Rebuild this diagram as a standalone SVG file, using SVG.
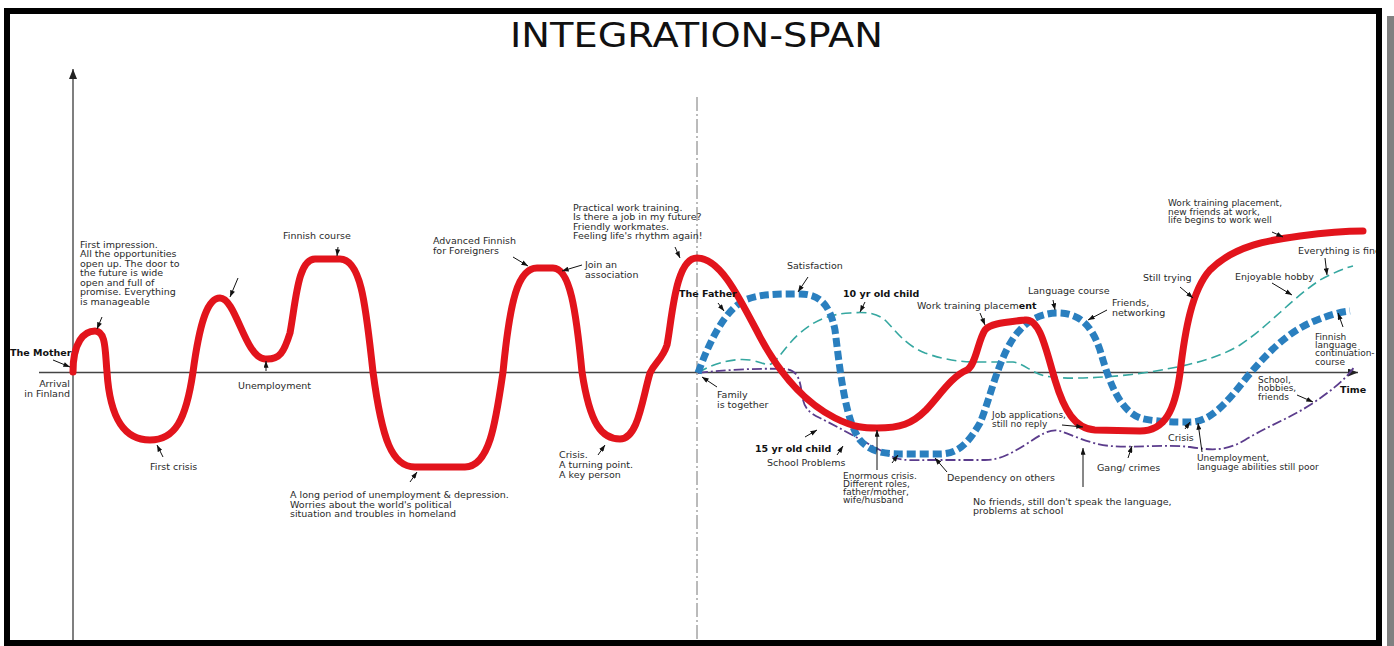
<svg xmlns="http://www.w3.org/2000/svg" width="1394" height="646" viewBox="0 0 1394 646">
  <style>
    text { font-family: "DejaVu Sans", Verdana, sans-serif; font-size: 9.5px; fill: #2a2a2a; }
    .b { font-weight: bold; fill: #111; }
    .s { font-size: 9px; }
    .title { font-size: 33px; fill: #111; }
    .lbl { stroke: #111; stroke-width: 1; fill: none; marker-end: url(#tip); }
    .mother { fill: none; stroke: #e2141c; stroke-width: 7; stroke-linecap: round; stroke-linejoin: round; }
    .father { fill: none; stroke: #2a7fbf; stroke-width: 7; stroke-dasharray: 9 4; }
    .child10 { fill: none; stroke: #35a7a0; stroke-width: 1.6; stroke-dasharray: 10 5; }
    .child15 { fill: none; stroke: #5b3c8c; stroke-width: 1.8; stroke-dasharray: 10 3 2 3; }
  </style>
  <defs>
    <marker id="tip" viewBox="0 0 8 6" refX="8" refY="3" markerWidth="7" markerHeight="5" markerUnits="userSpaceOnUse" orient="auto">
      <path d="M0,0 L8,3 L0,6 Z" fill="#111"/>
    </marker>
    <marker id="axtip" viewBox="0 0 10 8" refX="10" refY="4" markerWidth="10" markerHeight="8" markerUnits="userSpaceOnUse" orient="auto">
      <path d="M0,0 L10,4 L0,8 Z" fill="#222"/>
    </marker>
  </defs>

  <rect x="0" y="0" width="1394" height="646" fill="#fff"/>
  <!-- drop shadow on the right -->
  <rect x="1387" y="16" width="7" height="630" fill="#808080"/>

  <!-- title -->
  <text class="title" x="510" y="47" textLength="373" lengthAdjust="spacingAndGlyphs">INTEGRATION-SPAN</text>

  <!-- axes -->
  <g id="axes">
    <line x1="73" y1="640" x2="73" y2="69" stroke="#555" stroke-width="1.5" marker-end="url(#axtip)"/>
    <line x1="39" y1="372.5" x2="1358" y2="372.5" stroke="#444" stroke-width="1.5" marker-end="url(#axtip)"/>
    <line x1="697" y1="97" x2="697" y2="640" stroke="#777" stroke-width="1" stroke-dasharray="14 3 2 3"/>
  </g>

  <!-- curves -->
  <g id="connectors">
    <path id="curve-child10" class="child10" d="M698,373 C715,362 735,358 750,360 C762,362 766,366 771,364 C780,358 786,345 800,333 C815,320 830,314 850,313 C865,312 876,312 886,321 C896,331 905,345 925,353 C945,360 960,362 980,362 L1013,362 C1025,364 1030,372 1045,376 C1065,380 1110,378 1150,372 C1185,366 1215,360 1240,345 C1270,325 1290,300 1320,280 C1335,272 1345,268 1353,266"/>
    <path id="curve-child15" class="child15" d="M698,373 C720,370 760,368 785,369 C797,370 800,378 802,395 C804,408 808,412 820,418 C840,428 870,445 895,458 C905,461 915,460 930,460 L985,460 C1000,460 1010,454 1025,445 C1040,435 1050,428 1060,431 C1075,436 1090,444 1110,446 C1135,448 1165,444 1190,447 C1210,450 1225,452 1245,440 C1270,425 1290,418 1310,405 C1330,392 1345,380 1355,366"/>
    <path id="curve-father" class="father" d="M698,373 C710,340 725,310 745,300 C760,294 775,294 800,294 C820,294 830,305 835,330 C840,370 845,420 860,440 C870,452 885,454 900,454 L940,454 C960,454 970,440 980,423 C990,400 1000,350 1020,330 C1030,318 1045,313 1057,313 C1075,313 1090,320 1100,350 C1110,385 1120,410 1140,418 C1155,422 1175,422 1190,422 C1210,422 1225,405 1247,377 C1270,350 1290,330 1317,320 C1330,315 1340,312 1350,311"/>
    <path id="curve-mother" class="mother" d="M73,372 C73,342 84,331 95,331 C106,331 105,350 107,372 C110,420 125,440 150,440 C175,440 186,420 193,372 C200,320 208,298 220,298 C236,298 245,358 265,359 C280,360 284,352 290,333 C296,300 298,259 315,259 L340,259 C362,259 366,310 373,372 C382,440 392,467 415,467 L465,467 C490,467 496,420 503,372 C510,300 518,268 537,268 L553,268 C570,268 576,310 582,372 C590,425 602,439 620,439 C638,439 642,400 650,373 C655,362 662,360 667,345 C672,320 675,258 697,258 C720,258 738,295 760,337 C775,365 800,400 835,418 C855,428 865,428 877,428 C900,428 912,424 926,410 C940,395 952,376 967,370 C976,365 978,340 985,330 C990,324 1000,323 1025,320 C1040,318 1046,350 1055,380 C1064,410 1075,429 1095,430 L1140,431 C1165,431 1175,410 1180,373 C1185,330 1192,290 1210,270 C1235,245 1270,240 1300,236 C1330,232 1350,231 1363,231"/>
  </g>

  <!-- label pointers -->
  <g id="pointers">
    <path class="lbl" d="M53,360 L70,367"/>
    <path class="lbl" d="M102,317 L97,329"/>
    <path class="lbl" d="M163,457 L157,445"/>
    <path class="lbl" d="M238,278 L230,297"/>
    <path class="lbl" d="M266,371 L266,361"/>
    <path class="lbl" d="M338,247 L337,256"/>
    <path class="lbl" d="M410,482 L417,472"/>
    <path class="lbl" d="M513,257 L528,266"/>
    <path class="lbl" d="M582,265 L562,271"/>
    <path class="lbl" d="M598,455 L605,445"/>
    <path class="lbl" d="M675,247 L680,258"/>
    <path class="lbl" d="M718,303 L724,311"/>
    <path class="lbl" d="M808,277 L798,292"/>
    <path class="lbl" d="M865,302 L860,312"/>
    <path class="lbl" d="M717,387 L702,377"/>
    <path class="lbl" d="M805,437 L817,430"/>
    <path class="lbl" d="M837,455 L843,446"/>
    <path class="lbl" d="M877,470 L877,430"/>
    <path class="lbl" d="M892,463 L898,455"/>
    <path class="lbl" d="M947,472 L935,458"/>
    <path class="lbl" d="M980,313 L985,325"/>
    <path class="lbl" d="M1053,300 L1055,310"/>
    <path class="lbl" d="M1107,310 L1088,320"/>
    <path class="lbl" d="M1062,425 L1083,427"/>
    <path class="lbl" d="M1128,458 L1132,446"/>
    <path class="lbl" d="M1083,487 L1083,448"/>
    <path class="lbl" d="M1180,287 L1193,298"/>
    <path class="lbl" d="M1272,232 L1283,237"/>
    <path class="lbl" d="M1325,258 L1327,275"/>
    <path class="lbl" d="M1272,283 L1292,295"/>
    <path class="lbl" d="M1343,327 L1338,313"/>
    <path class="lbl" d="M1297,395 L1313,402"/>
    <path class="lbl" d="M1185,429 L1190,422"/>
    <path class="lbl" d="M1202,452 L1198,423"/>
  </g>

  <!-- mother labels -->
  <g id="mother-start">
    <text class="b" x="10" y="356">The Mother</text>
    <text x="70" y="387" text-anchor="end">Arrival</text>
    <text x="70" y="397" text-anchor="end">in Finland</text>
  </g>
  <g id="first-impression">
    <text x="80" y="247.5">First impression.</text>
    <text x="80" y="257">All the opportunities</text>
    <text x="80" y="266.5">open up. The door to</text>
    <text x="80" y="276">the future is wide</text>
    <text x="80" y="285.5">open and full of</text>
    <text x="80" y="295">promise. Everything</text>
    <text x="80" y="304.5">is manageable</text>
  </g>
  <g id="first-crisis"><text x="150" y="470">First crisis</text></g>
  <g id="unemployment"><text x="238" y="389">Unemployment</text></g>
  <g id="finnish-course"><text x="283" y="239">Finnish course</text></g>
  <g id="long-period">
    <text x="290" y="498">A long period of unemployment &amp; depression.</text>
    <text x="290" y="507.5">Worries about the world's political</text>
    <text x="290" y="517">situation and troubles in  homeland</text>
  </g>
  <g id="advanced-finnish">
    <text x="433" y="244">Advanced Finnish</text>
    <text x="433" y="253.5">for Foreigners</text>
  </g>
  <g id="join-association">
    <text x="585" y="268">Join an</text>
    <text x="585" y="278">association</text>
  </g>
  <g id="turning-point">
    <text x="559" y="458">Crisis.</text>
    <text x="559" y="468">A turning point.</text>
    <text x="559" y="478">A key person</text>
  </g>
  <g id="work-training">
    <text x="573" y="210.5">Practical work training.</text>
    <text x="573" y="220">Is there a job in my future?</text>
    <text x="573" y="229.5">Friendly workmates.</text>
    <text x="573" y="238.5">Feeling life's rhythm again!</text>
  </g>

  <!-- family labels -->
  <g id="father-start"><text class="b" x="679" y="297">The Father</text></g>
  <g id="satisfaction"><text x="787" y="269">Satisfaction</text></g>
  <g id="child10-start"><text class="b" x="843" y="296.5">10 yr old child</text></g>
  <g id="family-together">
    <text x="717" y="398">Family</text>
    <text x="717" y="407.5">is together</text>
  </g>
  <g id="child15-start"><text class="b" x="755" y="451.5">15 yr old child</text></g>
  <g id="school-problems"><text x="767" y="465.5">School Problems</text></g>
  <g id="enormous-crisis">
    <text class="s" x="843" y="478.5">Enormous crisis.</text>
    <text class="s" x="843" y="486.5">Different roles,</text>
    <text class="s" x="843" y="494.5">father/mother,</text>
    <text class="s" x="843" y="502.5">wife/husband</text>
  </g>
  <g id="dependency"><text x="947" y="480.5">Dependency on others</text></g>
  <g id="work-placement"><text x="917" y="308.5">Work training placem<tspan class="b">ent</tspan></text></g>
  <g id="language-course"><text x="1028" y="293.5">Language course</text></g>
  <g id="friends-networking">
    <text x="1112" y="306">Friends,</text>
    <text x="1112" y="316">networking</text>
  </g>
  <g id="job-applications">
    <text class="s" x="992" y="418">Job applications,</text>
    <text class="s" x="992" y="427">still no reply</text>
  </g>
  <g id="gang-crimes"><text x="1097" y="470.5">Gang/ crimes</text></g>
  <g id="no-friends">
    <text x="973" y="505">No friends, still don't speak the language,</text>
    <text x="973" y="513.5">problems at school</text>
  </g>
  <g id="still-trying"><text x="1143" y="280.5">Still trying</text></g>
  <g id="life-works">
    <text class="s" x="1168" y="206">Work training placement,</text>
    <text class="s" x="1168" y="214.5">new friends at work,</text>
    <text class="s" x="1168" y="222.5">life begins to work well</text>
  </g>
  <g id="everything-fine"><text x="1298" y="253.5">Everything is fine</text></g>
  <g id="enjoyable-hobby"><text x="1235" y="279.5">Enjoyable hobby</text></g>
  <g id="continuation-course">
    <text class="s" x="1315" y="339.5">Finnish</text>
    <text class="s" x="1315" y="347.5">language</text>
    <text class="s" x="1315" y="356">continuation-</text>
    <text class="s" x="1315" y="365">course</text>
  </g>
  <g id="school-hobbies">
    <text class="s" x="1258" y="382.5">School,</text>
    <text class="s" x="1258" y="390.5">hobbies,</text>
    <text class="s" x="1258" y="399.5">friends</text>
  </g>
  <g id="time-label"><text class="b" x="1340" y="392.5">Time</text></g>
  <g id="late-crisis"><text x="1168" y="440.5">Crisis</text></g>
  <g id="late-unemployment">
    <text class="s" x="1197" y="460.5">Unemployment,</text>
    <text class="s" x="1197" y="469.5">language abilities still poor</text>
  </g>

  <!-- frame, drawn last so it trims anything running past the edge -->
  <rect x="1380" y="0" width="7" height="646" fill="#fff"/>
  <rect x="7" y="11" width="1372" height="632" fill="none" stroke="#000" stroke-width="6"/>
</svg>
